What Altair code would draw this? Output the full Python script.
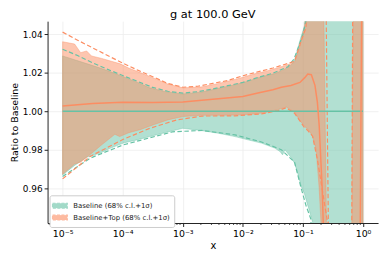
import altair as alt
import pandas as pd

TITLE = "g at 100.0 GeV"
X_TITLE = "x"
Y_TITLE = "Ratio to Baseline"
LABEL_BASE = "Baseline (68% c.l.+1σ)"
LABEL_TOP = "Baseline+Top (68% c.l.+1σ)"
GREEN = "#66c2a5"
ORANGE = "#fc8d62"

# ---- values (x given as log10(x)) ----
# Baseline 68% band
GB_LX = [-5, -4.8, -4.6, -4.375, -4.2, -3.99, -3.75, -3.55, -3.3, -3.0, -2.68, -2.4, -2.13, -1.9,
         -1.69, -1.47, -1.38, -1.34, -1.30, -1.2, -1.14, -1.09, -1.03, -0.975, -0.93, -0.9, -0.84, -0.80, 0]
GB_LO = [0.9668, 0.9718, 0.9760, 0.9782, 0.9808, 0.9834, 0.9852, 0.9868, 0.9888, 0.9911, 0.9899, 0.9885,
         0.9868, 0.9850, 0.9834, 0.9808, 0.9790, 0.9773, 0.9799, 0.9760, 0.9730, 0.9680, 0.9610, 0.9570,
         0.9520, 0.9490, 0.9423, 0.9200, 0.9200]
GB_HI = [1.0288, 1.0268, 1.0248, 1.0225, 1.0205, 1.0180, 1.0150, 1.0122, 1.0103, 1.0090, 1.0100, 1.0120,
         1.0138, 1.0158, 1.0180, 1.0196, 1.0208, 1.0214, 1.0220, 1.0240, 1.0265, 1.0323, 1.0390, 1.0443,
         1.0700, 1.0700, 1.0700, 1.0700, 1.0700]

# Baseline+Top 68% band
OB_LX = [-5, -4.8, -4.7, -4.6, -4.52, -4.35, -4.13, -4.05, -3.9, -3.7, -3.5, -3.25, -3.0, -2.7, -2.4,
         -2.1, -1.8, -1.6, -1.4, -1.28, -1.14, -1.05, -0.97, -0.9, -0.84, -0.78, -0.73, -0.70, -0.66,
         -0.60, -0.19, -0.16, 0]
OB_LO = [0.9672, 0.9725, 0.9735, 0.9760, 0.9780, 0.9825, 0.9880, 0.9868, 0.9888, 0.9905, 0.9928, 0.9955,
         0.9972, 0.9979, 0.9979, 0.9980, 0.9986, 0.9995, 1.0010, 1.0022, 0.9996, 0.9950, 0.9920, 0.9900,
         0.9870, 0.9800, 0.9600, 0.9420, 0.9200, 0.9200, 0.9200, 0.9200, 0.9200]
OB_HI = [1.0362, 1.0350, 1.0305, 1.0314, 1.0288, 1.0275, 1.0255, 1.0248, 1.0225, 1.0200, 1.0175, 1.0142,
         1.0122, 1.0126, 1.0145, 1.0168, 1.0195, 1.0210, 1.0228, 1.0240, 1.0255, 1.0340, 1.0450, 1.0700,
         1.0700, 1.0700, 1.0700, 1.0700, 1.0700, 0.9200, 0.9200, 1.0700, 1.0700]

# Baseline 1-sigma (dashed)
GDH_LX = [-5, -4.75, -4.5, -4.25, -4, -3.75, -3.5, -3.25, -3, -2.75, -2.5, -2.25, -2, -1.75, -1.5,
          -1.25, -1.15, -1.08, -1.0, -0.95, -0.9, 0]
GDH_Y = [1.0323, 1.0290, 1.0252, 1.0218, 1.0186, 1.0155, 1.0124, 1.0104, 1.0094, 1.0102, 1.0116, 1.0133,
         1.0150, 1.0176, 1.0198, 1.0232, 1.0271, 1.0330, 1.0400, 1.0470, 1.0700, 1.0700]
GDL_LX = [-5, -4.54, -3.99, -3.17, -2.68, -2.13, -1.69, -1.36, -1.14, -1.03, -0.95, -0.87, -0.82, 0]
GDL_Y = [0.9660, 0.9756, 0.9825, 0.9893, 0.9900, 0.9877, 0.9840, 0.9800, 0.9735, 0.9600, 0.9510, 0.9440,
         0.9200, 0.9200]

# Baseline+Top 1-sigma (dashed)
ODH_LX = [-5, -4.75, -4.5, -4.25, -4, -3.75, -3.5, -3.25, -3, -2.75, -2.5, -2.25, -2, -1.75, -1.5,
          -1.25, -1.14, -1.03, -0.95, -0.9, -0.62, -0.57, -0.19, -0.17, 0]
ODH_Y = [1.0412, 1.0370, 1.0330, 1.0290, 1.0251, 1.0214, 1.0180, 1.0145, 1.0125, 1.0130, 1.0145, 1.0160,
         1.0185, 1.0205, 1.0225, 1.0249, 1.0260, 1.0366, 1.0434, 1.0700, 1.0700, 0.9200, 0.9200, 1.0700,
         1.0700]
ODL_LX = [-5, -4.54, -3.99, -3.55, -3.11, -2.68, -2.13, -1.69, -1.41, -1.28, -1.14, -0.975, -0.92, -0.84,
          -0.76, -0.59, -0.55, 0]
ODL_Y = [0.9648, 0.9765, 0.9854, 0.9911, 0.9954, 0.9975, 0.9976, 0.9986, 1.0004, 1.0018, 0.9990, 0.9915,
         0.9900, 0.9870, 0.9750, 0.9420, 0.9200, 0.9200]

# central values
GC_LX = [-5, 0]
GC_Y = [1.0, 1.0]
OC_LX = [-5, -4.5, -4, -3.5, -3, -2.5, -2, -1.75, -1.5, -1.36, -1.2, -1.05, -0.97, -0.92, -0.86, -0.80,
         -0.76, -0.73, -0.68, -0.64, -0.05, -0.02, 0]
OC_Y = [1.0027, 1.0040, 1.0047, 1.0046, 1.0048, 1.0062, 1.0077, 1.0095, 1.0112, 1.0125, 1.0134, 1.0150,
        1.0175, 1.0194, 1.0190, 1.0135, 1.0048, 0.9928, 0.9600, 0.9200, 0.9200, 1.0700, 1.0700]

# axes
X_MAJOR = [1e-5, 1e-4, 1e-3, 1e-2, 1e-1, 1.0]
X_MINOR_MULT = [2, 3, 4, 5, 6, 7, 8, 9]
X_MINOR_DEC = [1e-6, 1e-5, 1e-4, 1e-3, 1e-2, 1e-1]
Y_TICKS = [0.96, 0.98, 1.00, 1.02, 1.04]
X_DOMAIN = [10 ** -5.25, 10 ** 0.25]
Y_DOMAIN = [0.9418, 1.0469]

W, H = 334, 204

# ---- tables ----
def band(lx, lo, hi, name):
    return pd.DataFrame({"x": [10 ** v for v in lx], "lo": lo, "hi": hi, "series": name})

def line(lx, y, name, key):
    return pd.DataFrame({"x": [10 ** v for v in lx], "y": y, "series": name, "key": key})

green_band = band(GB_LX, GB_LO, GB_HI, LABEL_BASE)
orange_band = band(OB_LX, OB_LO, OB_HI, LABEL_TOP)
dashed = pd.concat([
    line(GDH_LX, GDH_Y, LABEL_BASE, "gh"),
    line(GDL_LX, GDL_Y, LABEL_BASE, "gl"),
    line(ODH_LX, ODH_Y, LABEL_TOP, "oh"),
    line(ODL_LX, ODL_Y, LABEL_TOP, "ol"),
])
central = pd.concat([
    line(GC_LX, GC_Y, LABEL_BASE, "gc"),
    line(OC_LX, OC_Y, LABEL_TOP, "oc"),
])
minor = pd.DataFrame({"x": [m * d for d in X_MINOR_DEC for m in X_MINOR_MULT
                            if X_DOMAIN[0] <= m * d <= X_DOMAIN[1]]})
title_df = pd.DataFrame({"t": [TITLE]})

label_expr = ("'10' + (round(log(datum.value)/LN10) == -5 ? '⁻⁵' : "
              "round(log(datum.value)/LN10) == -4 ? '⁻⁴' : "
              "round(log(datum.value)/LN10) == -3 ? '⁻³' : "
              "round(log(datum.value)/LN10) == -2 ? '⁻²' : "
              "round(log(datum.value)/LN10) == -1 ? '⁻¹' : '⁰')")

x_axis = alt.Axis(values=X_MAJOR, labelExpr=label_expr, title=X_TITLE, grid=True,
                  tickSize=3.5, labelPadding=2, titlePadding=3, labelFontSize=9.5,
                  titleFontSize=10, labelFlush=False)
y_axis = alt.Axis(values=Y_TICKS, format=".2f", title=Y_TITLE, grid=True,
                  tickSize=3.5, labelPadding=2, titlePadding=3, labelFontSize=9,
                  titleFontSize=9.5)

x_scale = alt.Scale(type="log", domain=X_DOMAIN, nice=False)
y_scale = alt.Scale(domain=Y_DOMAIN, nice=False, zero=False)

names = [LABEL_BASE, LABEL_TOP]
col_scale = alt.Scale(domain=names, range=[GREEN, ORANGE])

legend = alt.Legend(title=None, orient="none", legendX=2, legendY=176,
                    symbolType="M-1.36,-0.45H1.36V0.45H-1.36Z", symbolSize=121,
                    symbolDash=[3, 1.5], symbolStrokeWidth=1.2, symbolOpacity=0.6,
                    labelFontSize=7, labelOffset=7, rowPadding=0, padding=4,
                    fillColor="white", strokeColor="#cccccc", cornerRadius=2,
                    labelColor="#222222")

def xenc():
    return alt.X("x:Q", scale=x_scale, axis=x_axis)

def area_layer(df):
    return alt.Chart(df).mark_area(clip=True, fillOpacity=0.5, strokeOpacity=0.5,
                                   strokeWidth=0.8, orient="vertical").encode(
        x=xenc(),
        y=alt.Y("lo:Q", scale=y_scale, axis=y_axis),
        y2="hi:Q",
        fill=alt.Fill("series:N", scale=col_scale, legend=legend),
        stroke=alt.Stroke("series:N", scale=col_scale, legend=legend),
    )

dash_layer = alt.Chart(dashed).mark_line(clip=True, strokeWidth=1.2, strokeDash=[4.5, 2.5]).encode(
    x=xenc(),
    y=alt.Y("y:Q", scale=y_scale, axis=y_axis),
    color=alt.Color("series:N", scale=col_scale, legend=None),
    detail="key:N",
)
central_layer = alt.Chart(central).mark_line(clip=True, strokeWidth=1.5).encode(
    x=xenc(),
    y=alt.Y("y:Q", scale=y_scale, axis=y_axis),
    color=alt.Color("series:N", scale=col_scale, legend=None),
    detail="key:N",
)
minor_layer = alt.Chart(minor).mark_rule(color="#222222", strokeWidth=0.8).encode(
    x=xenc(),
    y=alt.value(H),
    y2=alt.value(H + 2),
)
title_layer = alt.Chart(title_df).mark_text(
    fontSize=11.5, font="DejaVu Sans", color="black", align="center", baseline="alphabetic"
).encode(text="t:N", x=alt.value(W / 2), y=alt.value(-3))

chart = alt.layer(
    area_layer(green_band), area_layer(orange_band), dash_layer, central_layer, minor_layer,
    title_layer
).properties(
    width=W, height=H,
    autosize=alt.AutoSizeParams(type="none"),
    padding={"left": 40, "top": 12, "right": 5, "bottom": 30},
).configure(font="DejaVu Sans").configure_view(stroke=None).configure_axis(
    domainColor="#222222", tickColor="#222222", labelColor="black", titleColor="black",
    gridColor="#ececec", gridWidth=0.8, titleFontWeight="normal", labelFont="DejaVu Sans",
    titleFont="DejaVu Sans",
).configure_legend(labelFont="DejaVu Sans")

chart.save("out.html", embed_options={"renderer": "svg", "actions": False})
